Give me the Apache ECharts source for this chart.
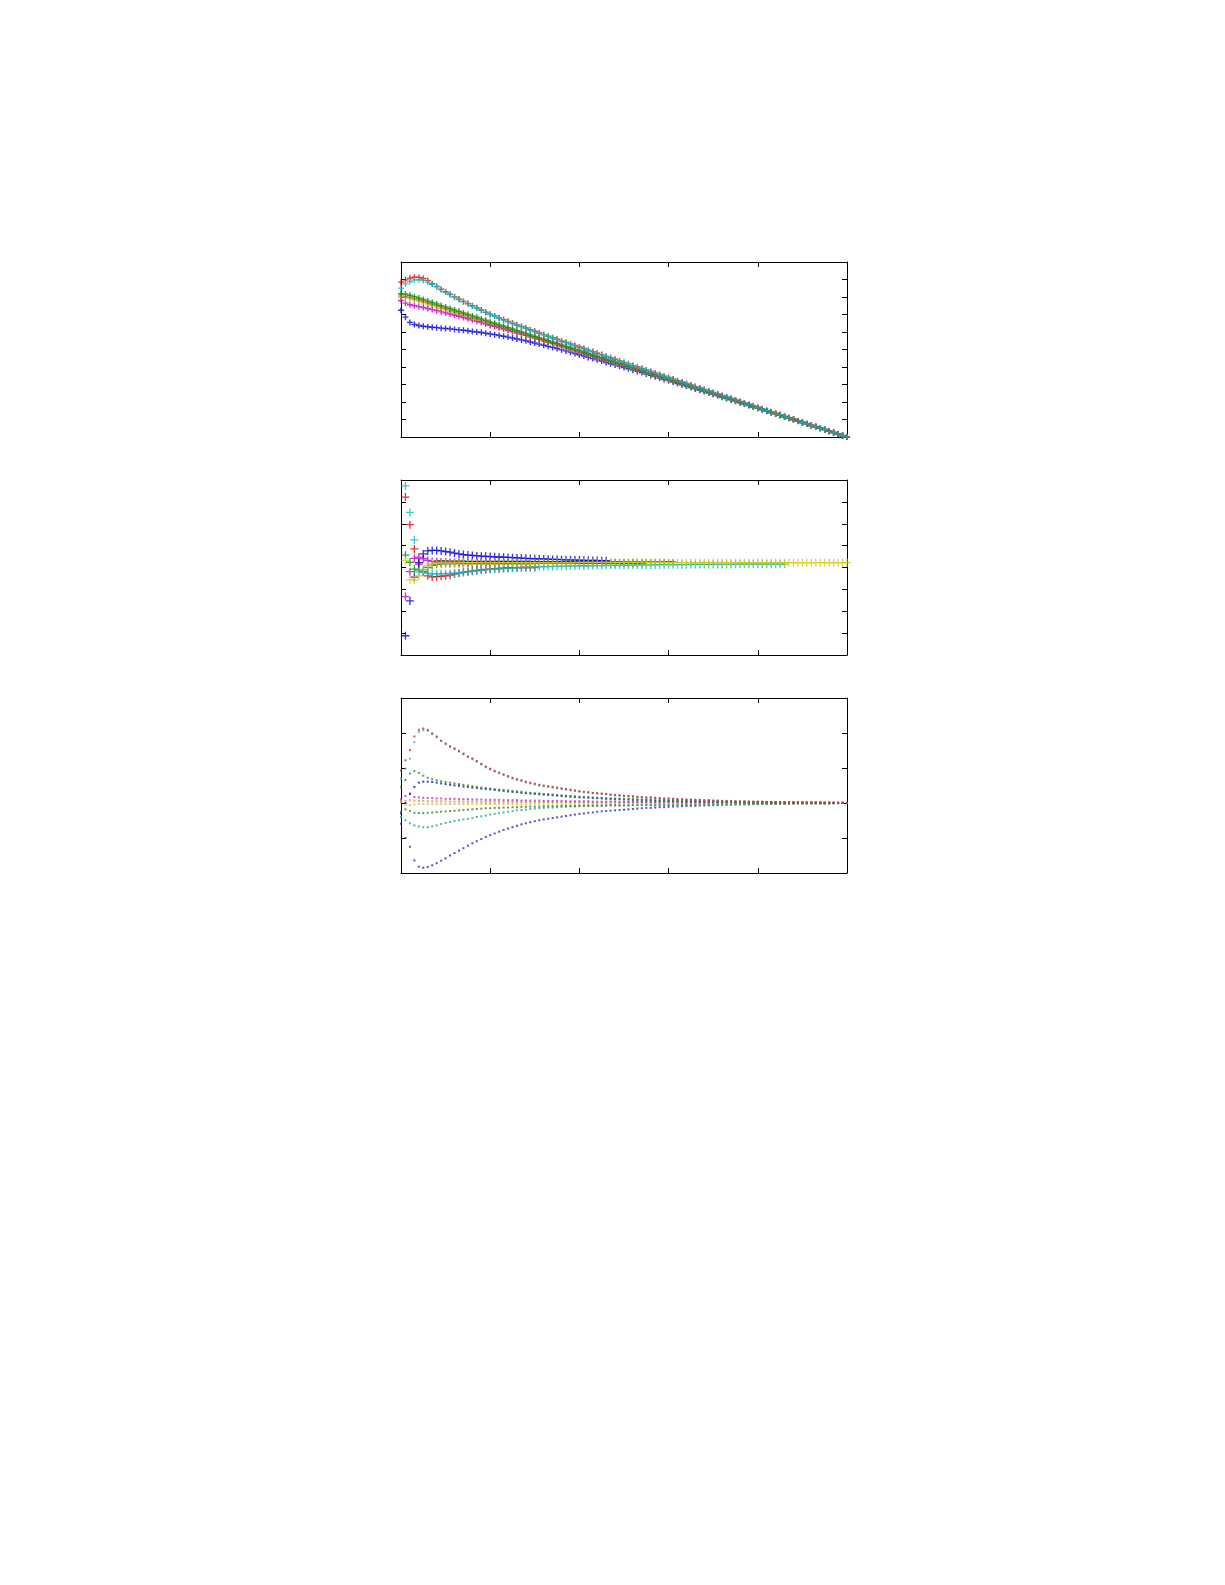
<!DOCTYPE html>
<html><head><meta charset="utf-8">
<script src="https://cdn.jsdelivr.net/npm/echarts@6/dist/echarts.min.js"></script>
<style>html,body{margin:0;padding:0;background:#fff}#c{width:1225px;height:1585px}</style>
</head><body><div id="c"></div>
<script>
// shared x positions
const xs = [0,0.05,0.1,0.15,0.2,0.25,0.3,0.35,0.4,0.45,0.5,0.55,0.6,0.65,0.7,0.75,0.8,0.85,0.9,0.95,
1,1.05,1.1,1.15,1.2,1.25,1.3,1.35,1.4,1.45,1.5,1.55,1.6,1.65,1.7,1.75,1.8,1.85,1.9,1.95,
2,2.05,2.1,2.15,2.2,2.25,2.3,2.35,2.4,2.45,2.5,2.55,2.6,2.65,2.7,2.75,2.8,2.85,2.9,2.95,
3,3.05,3.1,3.15,3.2,3.25,3.3,3.35,3.4,3.45,3.5,3.55,3.6,3.65,3.7,3.75,3.8,3.85,3.9,3.95,
4,4.05,4.1,4.15,4.2,4.25,4.3,4.35,4.4,4.45,4.5,4.55,4.6,4.65,4.7,4.75,4.8,4.85,4.9,4.95,5];

// ---------- panel 1 ----------
const p1Red = [8.85,8.98,9.08,9.13,9.12,9.06,8.95,8.76,8.61,8.45,
8.30,8.16,8.01,7.88,7.75,7.63,7.50,7.38,7.26,7.13,
7.02,6.92,6.81,6.71,6.61,6.51,6.41,6.32,6.23,6.13,
6.04,5.94,5.85,5.76,5.67,5.59,5.49,5.41,5.32,5.23,
5.14,5.06,4.96,4.88,4.79,4.71,4.61,4.53,4.44,4.35,
4.26,4.18,4.08,4.00,3.92,3.83,3.74,3.66,3.57,3.48,
3.40,3.31,3.22,3.14,3.06,2.97,2.88,2.80,2.72,2.63,
2.54,2.46,2.37,2.29,2.21,2.12,2.03,1.95,1.87,1.78,
1.70,1.61,1.52,1.44,1.36,1.28,1.19,1.11,1.03,0.93,
0.85,0.77,0.68,0.60,0.52,0.44,0.35,0.27,0.18,0.09,0.00];
const p1Cyan = [8.51,8.75,8.87,8.97,8.99,8.95,8.85,8.73,8.59,8.43,
8.28,8.14,7.99,7.86,7.73,7.61,7.48,7.36,7.24,7.11,
7.00,6.90,6.79,6.69,6.59,6.49,6.39,6.30,6.21,6.11,
6.02,5.93,5.84,5.75,5.66,5.58,5.48,5.40,5.31,5.22,
5.13,5.05,4.95,4.87,4.78,4.70,4.60,4.52,4.43,4.34,
4.25,4.17,4.07,3.99,3.91,3.82,3.73,3.65,3.56,3.47,
3.39,3.30,3.21,3.13,3.05,2.96,2.87,2.79,2.71,2.62,
2.53,2.45,2.36,2.28,2.20,2.11,2.02,1.94,1.86,1.77,
1.69,1.60,1.51,1.43,1.35,1.27,1.18,1.10,1.02,0.92,
0.84,0.76,0.67,0.59,0.51,0.43,0.34,0.26,0.17,0.08,0.00];
const p1Green = [8.19,8.17,8.10,8.02,7.94,7.86,7.77,7.69,7.60,7.51,
7.43,7.35,7.26,7.18,7.09,7.01,6.92,6.84,6.75,6.67,
6.58,6.50,6.41,6.33,6.25,6.17,6.08,6.00,5.92,5.83,
5.75,5.67,5.59,5.51,5.43,5.35,5.26,5.18,5.10,5.02,
4.94,4.86,4.77,4.69,4.61,4.53,4.44,4.36,4.28,4.20,
4.12,4.04,3.95,3.87,3.79,3.71,3.62,3.54,3.46,3.38,
3.30,3.23,3.14,3.06,2.98,2.90,2.81,2.73,2.65,2.56,
2.48,2.41,2.32,2.24,2.16,2.08,1.99,1.91,1.83,1.74,
1.66,1.58,1.49,1.41,1.33,1.25,1.16,1.08,1.00,0.91,
0.83,0.75,0.66,0.58,0.50,0.42,0.33,0.25,0.17,0.08,0.00];
const p1Yellow = [8.10,8.02,7.93,7.85,7.77,7.69,7.60,7.52,7.44,7.35,
7.27,7.19,7.10,7.02,6.94,6.86,6.77,6.69,6.61,6.52,
6.44,6.36,6.28,6.20,6.12,6.04,5.96,5.88,5.81,5.73,
5.66,5.58,5.50,5.42,5.35,5.27,5.19,5.11,5.04,4.95,
4.88,4.80,4.71,4.63,4.56,4.48,4.39,4.31,4.24,4.15,
4.08,4.00,3.91,3.83,3.76,3.68,3.59,3.51,3.44,3.35,
3.27,3.21,3.12,3.04,2.96,2.88,2.79,2.71,2.63,2.54,
2.46,2.40,2.31,2.23,2.15,2.07,1.98,1.90,1.82,1.73,
1.65,1.58,1.49,1.41,1.33,1.25,1.16,1.08,1.00,0.91,
0.83,0.75,0.66,0.58,0.50,0.42,0.33,0.25,0.17,0.08,0.00];
const p1Magenta = [7.80,7.65,7.56,7.50,7.45,7.40,7.34,7.28,7.22,7.15,
7.09,7.03,6.96,6.90,6.83,6.76,6.68,6.61,6.54,6.46,
6.39,6.32,6.24,6.17,6.10,6.03,5.95,5.88,5.81,5.72,
5.65,5.58,5.49,5.42,5.34,5.27,5.18,5.10,5.03,4.94,
4.86,4.79,4.70,4.63,4.55,4.47,4.39,4.31,4.24,4.15,
4.07,4.00,3.91,3.83,3.76,3.68,3.59,3.51,3.44,3.35,
3.27,3.21,3.12,3.04,2.96,2.88,2.79,2.71,2.63,2.54,
2.46,2.40,2.31,2.23,2.15,2.07,1.98,1.90,1.82,1.73,
1.65,1.58,1.49,1.41,1.33,1.25,1.16,1.08,1.00,0.91,
0.83,0.75,0.66,0.58,0.50,0.42,0.33,0.25,0.17,0.08,0.00];
const p1Orange = [8.00,8.00,7.98,7.92,7.85,7.77,7.68,7.60,7.52,7.43,
7.35,7.27,7.18,7.10,7.02,6.94,6.85,6.77,6.69,6.60,
6.52,6.46,6.37,6.29,6.21,6.13,6.04,5.96,5.88,5.79,
5.71,5.63,5.54,5.46,5.38,5.30,5.21,5.13,5.05,4.96,
4.88,4.84,4.75,4.67,4.59,4.51,4.42,4.34,4.26,4.17,
4.09,4.01,3.92,3.84,3.76,3.68,3.59,3.51,3.43,3.34,
3.26,3.22,3.13,3.05,2.97,2.89,2.80,2.72,2.64,2.55,
2.47,2.41,2.32,2.24,2.16,2.08,1.99,1.91,1.83,1.74,
1.66,1.58,1.49,1.41,1.33,1.25,1.16,1.08,1.00,0.91,
0.83,0.75,0.66,0.58,0.50,0.42,0.33,0.25,0.17,0.08,0.00];
const p1Blue = [7.24,6.85,6.55,6.43,6.37,6.33,6.30,6.27,6.25,6.22,
6.20,6.18,6.15,6.12,6.10,6.07,6.03,6.00,5.97,5.93,
5.89,5.85,5.80,5.76,5.71,5.66,5.60,5.55,5.50,5.43,
5.37,5.31,5.24,5.18,5.12,5.06,4.98,4.92,4.85,4.77,
4.70,4.63,4.55,4.48,4.41,4.34,4.26,4.19,4.12,4.04,
3.97,3.90,3.82,3.75,3.68,3.60,3.52,3.45,3.37,3.29,
3.22,3.14,3.06,2.98,2.91,2.83,2.75,2.67,2.60,2.51,
2.44,2.36,2.27,2.20,2.12,2.04,1.96,1.88,1.80,1.71,
1.64,1.56,1.47,1.39,1.31,1.24,1.15,1.07,0.99,0.90,
0.82,0.74,0.66,0.58,0.50,0.42,0.33,0.25,0.17,0.08,0.00];

// ---------- panel 2 ----------
const p2Red = [null,3.22,1.96,0.85,0.15,-0.19,-0.38,-0.43,-0.42,-0.40,
-0.38,-0.35,-0.30,-0.26,-0.22,-0.19,-0.16,-0.13,-0.11,-0.09,
-0.07,-0.05,-0.04,-0.03,-0.02,-0.01,-0.01,0.00,0.00,0.00,0.00];
const p2Cyan = [null,3.73,2.52,1.26,-0.20,-0.22,-0.27,-0.29,-0.29,-0.29,
-0.28,-0.27,-0.26,-0.24,-0.22,-0.20,-0.18,-0.16,-0.13,-0.11,
-0.09,-0.07,-0.06,-0.05,-0.04,-0.03,-0.02,-0.01,0.00,0.01,
0.02,0.03,0.04,0.04,0.05,0.05,0.06,0.06,0.07,0.07,
0.08,0.08,0.08,0.09,0.09,0.09,0.10,0.10,0.10,0.11,
0.11,0.11,0.11,0.12,0.12,0.12,0.12,0.12,0.13,0.13,
0.13,0.13,0.13,0.13,0.13,0.14,0.14,0.14,0.14,0.14,
0.14,0.14,0.14,0.14,0.14,0.15,0.15,0.15,0.15,0.15,
0.15,0.15,0.15,0.15,0.15,0.15,0.15];
const p2Blue = [null,-3.12,-1.53,-0.44,0.22,0.62,0.76,0.78,0.78,0.76,
0.73,0.70,0.66,0.62,0.59,0.57,0.55,0.53,0.52,0.51,
0.50,0.49,0.48,0.47,0.46,0.45,0.44,0.43,0.42,0.41,
0.40,0.39,0.39,0.38,0.37,0.37,0.36,0.35,0.35,0.34,
0.34,0.33,0.33,0.32,0.32,0.31,0.31];
const p2Magenta = [null,-1.33,-0.19,0.42,0.47,0.40,0.33,0.28,0.25,0.24,
0.23,0.22,0.22,0.22,0.22,0.22,0.22,0.22,0.22,0.22,
0.22,0.22,0.22,0.22,0.22];
const p2Green = [null,0.57,0.24,-0.07,-0.11,-0.10,0.00,0.10,0.15,0.17,
0.18,0.18,0.18,0.18,0.18,0.18,0.18,0.18,0.18,0.18,
0.18,0.18,0.18,0.18,0.18,0.18,0.18,0.18,0.18,0.18,
0.19,0.19,0.19,0.19,0.19,0.19,0.19,0.19,0.19,0.19,
0.19,0.19,0.19,0.19,0.19,0.19,0.19,0.19,0.19,0.19,
0.19,0.19,0.19,0.19,0.19];
const p2Yellow = [null,0.32,-0.57,-0.57,-0.38,-0.10,0.10,0.18,0.20,0.21,
0.21,0.21,0.21,0.22,0.22,0.22,0.22,0.22,0.22,0.22,
0.22,0.22,0.22,0.22,0.22,0.22,0.22,0.22,0.22,0.22,
0.22,0.22,0.22,0.22,0.22,0.22,0.22,0.22,0.22,0.22,
0.23,0.23,0.23,0.23,0.23,0.23,0.23,0.23,0.23,0.23,
0.23,0.23,0.23,0.23,0.23,0.23,0.23,0.23,0.23,0.23,
0.22,0.22,0.22,0.22,0.22,0.22,0.22,0.22,0.22,0.22,
0.22,0.22,0.22,0.22,0.22,0.22,0.22,0.22,0.22,0.22,
0.22,0.22,0.22,0.22,0.22,0.22,0.22,0.22,0.22,0.22,
0.22,0.22,0.22,0.22,0.22,0.22,0.22,0.22,0.22,0.22,0.22];
const p2Black = [null,null,null,null,null,null,null,null,0.30,0.30,
0.30,0.29,0.29,0.29,0.29,0.28,0.28,0.28,0.28,0.28,
0.28,0.28,0.28,0.28,0.28,0.28,0.28,0.28,0.28,0.28,
0.27,0.27,0.27,0.27,0.27,0.27,0.27,0.27,0.27,0.27,
0.27,0.27,0.27,0.27,0.27,0.27,0.27,0.27,0.27,0.27,
0.26,0.26,0.26,0.26,0.26,0.26,0.26,0.26,0.26,0.26,
0.26,0.26];

// ---------- panel 3 ----------
const p3Red = [0.93,1.22,1.51,1.90,2.09,2.13,2.09,1.99,1.90,1.78,
1.70,1.62,1.56,1.49,1.41,1.33,1.27,1.20,1.12,1.04,
0.98,0.92,0.87,0.82,0.77,0.72,0.68,0.65,0.61,0.58,
0.55,0.52,0.50,0.48,0.46,0.44,0.42,0.40,0.38,0.36,
0.34,0.32,0.31,0.29,0.28,0.27,0.26,0.24,0.23,0.22,
0.21,0.20,0.19,0.18,0.17,0.16,0.16,0.15,0.14,0.13,
0.13,0.12,0.11,0.11,0.10,0.10,0.09,0.09,0.08,0.08,
0.07,0.07,0.06,0.06,0.06,0.05,0.05,0.05,0.04,0.04,
0.04,0.04,0.03,0.03,0.03,0.03,0.02,0.02,0.02,0.02,
0.02,0.01,0.01,0.01,0.01,0.01,0.01,0.01,0.01,0.01,0.00];
const p3Cyan = [0.70,0.98,1.27,1.74,2.03,2.08,2.06,1.97,1.88,1.77,
1.68,1.60,1.54,1.47,1.39,1.31,1.25,1.18,1.10,1.02,
0.96,0.90,0.85,0.80,0.75,0.70,0.66,0.63,0.59,0.56,
0.53,0.50,0.48,0.46,0.44,0.42,0.40,0.38,0.36,0.34,
0.32,0.31,0.30,0.28,0.27,0.26,0.25,0.23,0.22,0.21,
0.20,0.19,0.18,0.17,0.16,0.15,0.15,0.14,0.13,0.12,
0.12,0.11,0.10,0.10,0.09,0.09,0.08,0.08,0.07,0.07,
0.06,0.06,0.06,0.05,0.05,0.05,0.04,0.04,0.04,0.03,
0.03,0.03,0.03,0.03,0.02,0.02,0.02,0.02,0.02,0.01,
0.01,0.01,0.01,0.01,0.01,0.01,0.01,0.00,0.00,0.00,0.00];
const p3Green = [0.45,0.66,0.84,0.91,0.86,0.78,0.72,0.68,0.65,0.62,
0.60,0.58,0.56,0.54,0.52,0.50,0.48,0.46,0.44,0.43,
0.41,0.40,0.38,0.37,0.36,0.34,0.33,0.32,0.30,0.29,
0.28,0.27,0.26,0.25,0.24,0.23,0.22,0.21,0.20,0.19,
0.18,0.17,0.17,0.16,0.15,0.15,0.14,0.13,0.13,0.12,
0.12,0.11,0.11,0.10,0.10,0.09,0.09,0.08,0.08,0.08,
0.07,0.07,0.07,0.06,0.06,0.06,0.05,0.05,0.05,0.05,
0.04,0.04,0.04,0.04,0.03,0.03,0.03,0.03,0.03,0.02,
0.02,0.02,0.02,0.02,0.02,0.02,0.02,0.02,0.02,0.01,
0.01,0.01,0.01,0.01,0.01,0.01,0.01,0.01,0.01,0.00,0.00];
const p3Blue = [-0.30,0.00,0.27,0.46,0.58,0.61,0.61,0.60,0.58,0.56,
0.54,0.52,0.50,0.49,0.47,0.46,0.44,0.43,0.41,0.40,
0.39,0.37,0.36,0.35,0.33,0.32,0.31,0.29,0.28,0.27,
0.26,0.25,0.24,0.23,0.22,0.21,0.20,0.19,0.18,0.17,
0.16,0.16,0.15,0.14,0.14,0.13,0.12,0.12,0.11,0.11,
0.10,0.10,0.09,0.09,0.08,0.08,0.08,0.07,0.07,0.07,
0.06,0.06,0.06,0.05,0.05,0.05,0.05,0.04,0.04,0.04,
0.04,0.03,0.03,0.03,0.03,0.03,0.02,0.02,0.02,0.02,
0.02,0.02,0.02,0.01,0.01,0.01,0.01,0.01,0.01,0.01,
0.01,0.01,0.01,0.01,0.01,0.00,0.00,0.00,0.00,0.00,0.00];
const p3Magenta = [0.10,0.20,0.25,0.17,0.16,0.15,0.14,0.14,0.13,0.13,
0.12,0.12,0.12,0.11,0.11,0.11,0.10,0.10,0.10,0.09,
0.09,0.09,0.09,0.08,0.08,0.08,0.08,0.07,0.07,0.07,
0.07,0.07,0.06,0.06,0.06,0.06,0.06,0.05,0.05,0.05,
0.05,0.05,0.05,0.04,0.04,0.04,0.04,0.04,0.04,0.03,
0.03,0.03,0.03,0.03,0.03,0.03,0.03,0.03,0.03,0.03,
0.03,0.03,0.03,0.02,0.02,0.02,0.02,0.02,0.02,0.02,
0.02,0.02,0.02,0.02,0.02,0.01,0.01,0.01,0.01,0.01,
0.01,0.01,0.01,0.01,0.01,0.01,0.01,0.01,0.01,0.01,
0.01,0.01,0.01,0.01,0.01,0.00,0.00,0.00,0.00,0.00,0.00];
const p3Orange = [0.02,0.06,0.08,0.07,0.06,0.06,0.05,0.05,0.05,0.05,
0.05,0.04,0.04,0.04,0.04,0.04,0.04,0.04,0.03,0.03,
0.03,0.03,0.03,0.03,0.03,0.03,0.03,0.03,0.03,0.03,
0.03,0.03,0.03,0.03,0.03,0.03,0.03,0.03,0.03,0.03,
0.02,0.02,0.02,0.02,0.02,0.02,0.02,0.02,0.02,0.02,
0.02,0.02,0.02,0.02,0.02,0.02,0.02,0.02,0.02,0.02,
0.02,0.02,0.02,0.02,0.02,0.02,0.02,0.02,0.02,0.02,
0.01,0.01,0.01,0.01,0.01,0.01,0.01,0.01,0.01,0.01,
0.01,0.01,0.01,0.01,0.01,0.01,0.01,0.01,0.01,0.01,
0.01,0.01,0.01,0.01,0.01,0.01,0.01,0.01,0.01,0.01,0.00];
const p3Yellow = [0.08,-0.05,-0.06,-0.04,-0.03,-0.03,-0.03,-0.03,-0.03,-0.03,
-0.03,-0.03,-0.03,-0.03,-0.03,-0.03,-0.03,-0.03,-0.03,-0.03,
-0.03,-0.03,-0.03,-0.03,-0.03,-0.03,-0.03,-0.03,-0.03,-0.03,
-0.02,-0.02,-0.02,-0.02,-0.02,-0.02,-0.02,-0.02,-0.02,-0.02,
-0.02,-0.02,-0.02,-0.02,-0.02,-0.02,-0.02,-0.02,-0.02,-0.02,
-0.02,-0.02,-0.02,-0.02,-0.02,-0.01,-0.01,-0.01,-0.01,-0.01,
-0.01,-0.01,-0.01,-0.01,-0.01,-0.01,-0.01,-0.01,-0.01,-0.01,
-0.01,-0.01,-0.01,-0.01,-0.01,-0.01,-0.01,-0.01,-0.01,-0.01,
-0.01,-0.01,-0.01,-0.01,-0.01,-0.01,-0.01,-0.01,-0.01,-0.01,
-0.01,-0.01,-0.01,-0.01,-0.01,0.00,0.00,0.00,0.00,0.00,0.00];
const p3DarkGreen = [-0.25,-0.18,-0.23,-0.28,-0.29,-0.29,-0.28,-0.27,-0.26,-0.25,
-0.24,-0.23,-0.22,-0.21,-0.20,-0.19,-0.18,-0.17,-0.16,-0.15,
-0.15,-0.14,-0.14,-0.13,-0.13,-0.12,-0.12,-0.11,-0.11,-0.10,
-0.10,-0.10,-0.09,-0.09,-0.09,-0.09,-0.08,-0.08,-0.08,-0.08,
-0.08,-0.07,-0.07,-0.07,-0.07,-0.07,-0.06,-0.06,-0.06,-0.06,
-0.06,-0.06,-0.05,-0.05,-0.05,-0.05,-0.05,-0.05,-0.05,-0.05,
-0.05,-0.04,-0.04,-0.04,-0.04,-0.04,-0.04,-0.03,-0.03,-0.03,
-0.03,-0.03,-0.03,-0.03,-0.03,-0.03,-0.02,-0.02,-0.02,-0.02,
-0.02,-0.02,-0.02,-0.02,-0.02,-0.02,-0.01,-0.01,-0.01,-0.01,
-0.01,-0.01,-0.01,-0.01,-0.01,-0.01,-0.01,0.00,0.00,0.00,0.00];
const p3Teal = [-0.40,-0.49,-0.58,-0.64,-0.67,-0.69,-0.69,-0.67,-0.64,-0.60,
-0.57,-0.54,-0.51,-0.49,-0.47,-0.45,-0.43,-0.40,-0.38,-0.36,
-0.33,-0.31,-0.29,-0.27,-0.25,-0.23,-0.21,-0.20,-0.19,-0.17,
-0.16,-0.15,-0.14,-0.13,-0.13,-0.12,-0.11,-0.11,-0.10,-0.10,
-0.09,-0.09,-0.09,-0.08,-0.08,-0.08,-0.08,-0.07,-0.07,-0.07,
-0.07,-0.07,-0.06,-0.06,-0.06,-0.06,-0.06,-0.06,-0.05,-0.05,
-0.05,-0.05,-0.05,-0.05,-0.04,-0.04,-0.04,-0.04,-0.04,-0.04,
-0.03,-0.03,-0.03,-0.03,-0.03,-0.03,-0.03,-0.02,-0.02,-0.02,
-0.02,-0.02,-0.02,-0.02,-0.02,-0.02,-0.01,-0.01,-0.01,-0.01,
-0.01,-0.01,-0.01,-0.01,-0.01,-0.01,0.00,0.00,0.00,0.00,0.00];
const p3BlueLow = [-0.59,-1.00,-1.25,-1.64,-1.82,-1.85,-1.83,-1.78,-1.72,-1.65,
-1.58,-1.50,-1.43,-1.36,-1.29,-1.22,-1.15,-1.09,-1.03,-0.97,
-0.92,-0.87,-0.82,-0.77,-0.73,-0.69,-0.65,-0.61,-0.58,-0.55,
-0.52,-0.49,-0.47,-0.45,-0.43,-0.41,-0.39,-0.37,-0.35,-0.33,
-0.31,-0.30,-0.28,-0.27,-0.25,-0.24,-0.23,-0.22,-0.21,-0.20,
-0.19,-0.18,-0.17,-0.16,-0.15,-0.14,-0.14,-0.13,-0.12,-0.12,
-0.11,-0.10,-0.10,-0.09,-0.09,-0.08,-0.08,-0.07,-0.07,-0.07,
-0.06,-0.06,-0.05,-0.05,-0.05,-0.04,-0.04,-0.04,-0.04,-0.03,
-0.03,-0.03,-0.03,-0.02,-0.02,-0.02,-0.02,-0.02,-0.01,-0.01,
-0.01,-0.01,-0.01,-0.01,-0.01,-0.01,-0.01,-0.01,-0.01,0.00,0.00];

// axis ranges per panel
const yRanges = [[0,10],[-4,4],[-2,3]];
const xRange = [0,5];

const chart = echarts.init(document.getElementById('c'), null, {renderer:'canvas'});
const grids = [
  {left:401, top:262, width:446, height:175, outerBoundsMode:'none'},
  {left:401, top:480, width:446, height:175, outerBoundsMode:'none'},
  {left:401, top:698, width:446, height:175, outerBoundsMode:'none'}
];
const common = {
  type:'value',
  axisLine:{show:true, onZero:false, lineStyle:{color:'#000', width:1}},
  axisTick:{show:true, inside:true, length:5, lineStyle:{color:'#000', width:1}},
  axisLabel:{show:false},
  splitLine:{show:false}
};
const xAxes = [], yAxes = [];
grids.forEach((g,k)=>{
  ['bottom','top'].forEach(p=>xAxes.push(Object.assign({gridIndex:k, position:p, min:xRange[0], max:xRange[1], interval:1}, common)));
  ['left','right'].forEach(p=>yAxes.push(Object.assign({gridIndex:k, position:p, min:yRanges[k][0], max:yRanges[k][1], interval:1}, common)));
});

function pts(arr){ const out=[]; arr.forEach((v,i)=>{ if(v!==null) out.push([xs[i], v]); }); return out; }
const CROSS = 'path://M0,5L10,5M5,0L5,10';
function crossSeries(k, arr, color, size, lw){
  return {type:'scatter', xAxisIndex:2*k, yAxisIndex:2*k, data:pts(arr), symbol:CROSS, symbolSize:size,
    itemStyle:{color:'rgba(0,0,0,0)', borderColor:color, borderWidth:lw||1}, silent:true, animation:false};
}
function dotSeries(k, arr, color){
  return {type:'scatter', xAxisIndex:2*k, yAxisIndex:2*k, data:pts(arr), symbol:'rect', symbolSize:2,
    itemStyle:{color:color}, silent:true, animation:false};
}
const C = {red:'#e00000', cyan:'#10b8c0', green:'#008a00', blue:'#0000e0', magenta:'#c000c0', yellow:'#c8b800', orange:'#e87850', black:'#000'};

const series = [
  crossSeries(0, p1Blue, C.blue, 6, 1.4),
  crossSeries(0, p1Yellow, C.yellow, 6, 1.4),
  crossSeries(0, p1Magenta, C.magenta, 6, 1.4),
  crossSeries(0, p1Orange, C.orange, 6, 1.4),
  crossSeries(0, p1Green, C.green, 6, 1.4),
  crossSeries(0, p1Red, C.red, 6, 1.4),
  crossSeries(0, p1Cyan, C.cyan, 6, 1.4),

  crossSeries(1, p2Black, C.black, 5, 1.2),
  crossSeries(1, p2Green, C.green, 8, 1.3),
  crossSeries(1, p2Red, C.red, 8, 1.3),
  crossSeries(1, p2Magenta, C.magenta, 8, 1.3),
  crossSeries(1, p2Cyan, C.cyan, 8, 1.3),
  crossSeries(1, p2Blue, C.blue, 8, 1.3),
  crossSeries(1, p2Yellow, '#d2c81e', 8, 1.3),

  dotSeries(2, p3BlueLow, '#2828c0'),
  dotSeries(2, p3Teal, '#28a0a0'),
  dotSeries(2, p3DarkGreen, '#288828'),
  dotSeries(2, p3Yellow, '#c8c030'),
  dotSeries(2, p3Orange, '#e08c30'),
  dotSeries(2, p3Magenta, '#c030c0'),
  dotSeries(2, p3Blue, '#1818a8'),
  dotSeries(2, p3Green, '#288828'),
  dotSeries(2, p3Cyan, '#28b4c0'),
  dotSeries(2, p3Red, '#d02828')
];

chart.setOption({
  animation:false,
  backgroundColor:'#fff',
  grid:grids,
  xAxis:xAxes,
  yAxis:yAxes,
  series:series
});
</script>
</body></html>
